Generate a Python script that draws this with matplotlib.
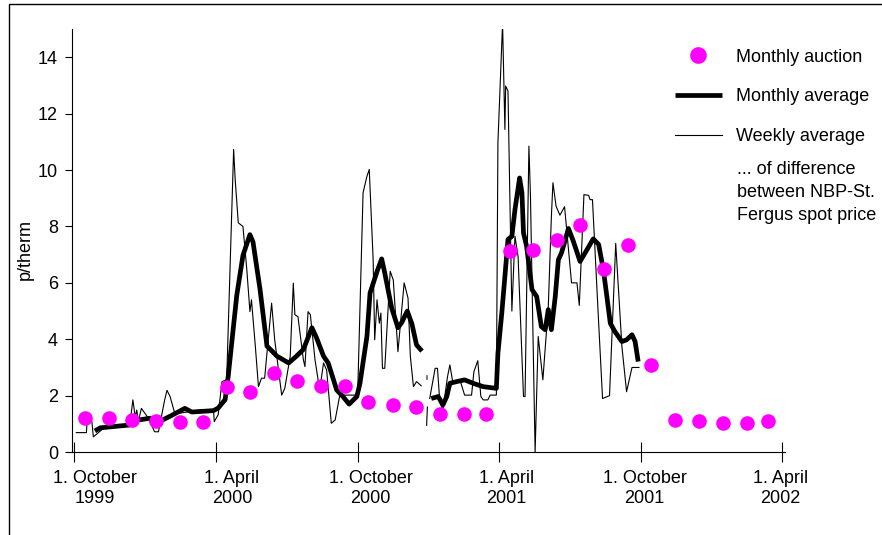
import numpy as np
import pandas as pd
import matplotlib
matplotlib.use("Agg")
import matplotlib.pyplot as plt
import matplotlib.dates as mdates
from matplotlib.lines import Line2D
from matplotlib.patches import Rectangle
from matplotlib.transforms import ScaledTranslation

plt.rcParams['font.family'] = ['Liberation Sans', 'DejaVu Sans']

BASE = np.datetime64('1999-10-01')

# Monthly auction result, one per month Oct 1999 .. Mar 2002 (p/therm)
auction_dates = pd.date_range('1999-10-01', '2002-03-01', freq='MS') + pd.Timedelta(days=14)
auction_vals = [1.20, 1.21, 1.14, 1.11, 1.08, 1.08, 2.31, 2.12, 2.80, 2.53, 2.35, 2.35,
                1.79, 1.67, 1.59, 1.34, 1.35, 1.35, 7.12, 7.18, 7.53, 8.06, 6.49, 7.33,
                3.07, 1.14, 1.10, 1.04, 1.04, 1.11]

# Monthly (rolling) average of NBP - St. Fergus difference; days since 1 Oct 1999
monthly_a_days = [27, 34, 72, 79, 98, 107, 124, 143, 152, 180, 186, 195, 199, 210, 218,
                  227, 231, 240, 249, 262, 277, 287, 296, 307, 313, 322, 328, 339, 347, 355,
                  365, 369, 378, 382, 391, 397, 401, 410, 418, 423, 430, 436, 442, 449]
monthly_a_vals = [0.75, 0.86, 0.96, 1.12, 1.20, 1.04, 1.27, 1.55, 1.42, 1.47, 1.56, 1.86, 2.69, 5.55, 6.97,
                  7.71, 7.45, 5.78, 3.76, 3.40, 3.16, 3.40, 3.64, 4.41, 4.05, 3.40, 3.16, 2.20, 1.97, 1.70,
                  1.97, 2.44, 4.10, 5.64, 6.40, 6.85, 6.35, 5.10, 4.41, 4.60, 5.00, 4.55, 3.80, 3.58]
monthly_b_days = [454, 456]
monthly_b_vals = [2.65, 2.65]
monthly_c_days = [461, 470, 476, 481, 485, 494, 504, 515, 528, 545, 547, 552, 556, 560, 565,
                  569, 575, 578, 580, 584, 591, 597, 603, 608, 612, 616, 621, 625, 629, 634,
                  638, 644, 653, 662, 670, 677, 683, 687, 692, 698, 707, 713, 720, 724, 728]
monthly_c_vals = [1.90, 1.97, 1.67, 1.97, 2.44, 2.50, 2.56, 2.44, 2.32, 2.26, 3.50, 4.93, 6.23, 7.54, 7.65,
                  8.60, 9.72, 9.19, 7.77, 7.30, 5.76, 5.52, 4.45, 4.34, 5.05, 4.34, 5.52, 6.82, 7.06, 7.54,
                  7.93, 7.50, 6.76, 7.18, 7.56, 7.36, 6.47, 5.64, 4.57, 4.27, 3.92, 3.98, 4.16, 3.92, 3.21]

# Weekly average
weekly_a_days = [3, 16, 17, 23, 25, 38, 72, 76, 79, 81, 83, 87, 96, 104, 109, 117, 120, 124, 130, 137,
                 150, 167, 180, 181, 186, 191, 197, 206, 208, 212, 218, 223, 227, 229, 234, 238, 242,
                 246, 255, 259, 268, 272, 279, 283, 285, 289, 296, 298, 302, 305, 311, 317, 322, 326,
                 332, 337, 343, 366, 373, 375, 378, 381, 386, 388, 391, 394, 396, 398, 401, 408, 412,
                 418, 426, 431, 434, 438, 442, 448]
weekly_a_vals = [0.69, 0.69, 1.10, 1.10, 0.54, 0.84, 0.96, 1.85, 1.25, 1.49, 1.08, 1.55, 1.20, 0.72, 0.72,
                 1.85, 2.19, 1.97, 1.38, 1.38, 1.44, 1.50, 1.50, 1.08, 1.32, 2.50, 2.56, 10.73, 9.66, 8.13,
                 8.00, 6.47, 4.98, 5.40, 3.75, 2.32, 2.62, 2.62, 5.28, 3.98, 2.02, 2.26, 3.40, 5.99, 4.87,
                 4.80, 3.27, 3.03, 4.98, 4.87, 3.27, 2.20, 3.16, 2.91, 1.02, 1.14, 2.02, 2.02, 9.19, 9.43,
                 9.78, 10.02, 6.82, 3.98, 5.40, 4.57, 4.93, 2.97, 2.97, 6.41, 6.10, 3.56, 6.00, 5.46, 3.40,
                 2.32, 2.50, 2.35]
weekly_b_days = [455, 456]
weekly_b_vals = [0.95, 1.60]
weekly_c_days = [459, 466, 469, 472, 476, 482, 485, 489, 498, 504, 513, 516, 521, 525, 528, 534, 537,
                 545, 547, 553, 556, 557, 560, 565, 569, 573, 580, 582, 587, 589, 595, 599, 605, 612,
                 616, 618, 622, 627, 633, 642, 649, 652, 658, 664, 666, 669, 677, 682, 691, 699, 707,
                 713, 720, 729]
weekly_c_vals = [1.90, 2.97, 2.97, 1.79, 1.50, 2.68, 3.09, 2.44, 2.56, 2.02, 2.02, 2.85, 3.24, 1.97, 1.85,
                 1.85, 2.02, 2.02, 10.97, 15.2, 11.44, 12.98, 12.80, 5.0, 7.65, 6.94, 1.97, 1.97, 10.85,
                 9.07, 0.0, 4.10, 2.56, 5.16, 8.36, 9.55, 8.72, 8.40, 8.70, 6.00, 6.00, 5.20, 9.13, 9.10,
                 8.95, 8.95, 4.57, 1.90, 2.00, 7.40, 3.74, 2.14, 3.00, 3.00]

tick_dates = ['1999-10-01', '2000-04-01', '2000-10-01', '2001-04-01', '2001-10-01', '2002-04-01']
tick_labels = ['1. October\n1999', '1. April\n2000', '1. October\n2000',
               '1. April\n2001', '1. October\n2001', '1. April\n2002']
# labels in the original sit a little off their ticks (pixels, + = right)
label_shift_px = [21, 16, 13, 8, 4, -1]


def to_dates(days):
    return BASE + np.array(days).astype('timedelta64[D]')


fig = plt.figure(figsize=(8.82, 5.35), dpi=100)
ax = fig.add_axes([0.0816, 0.155, 0.8084, 0.7907])

THIN = dict(color='black', lw=0.8)
THICK = dict(color='black', lw=3.4, solid_capstyle='butt')
for d, v in [(weekly_a_days, weekly_a_vals), (weekly_b_days, weekly_b_vals), (weekly_c_days, weekly_c_vals)]:
    ax.plot(to_dates(d), v, **THIN)
for d, v in [(monthly_a_days, monthly_a_vals), (monthly_b_days, monthly_b_vals), (monthly_c_days, monthly_c_vals)]:
    ax.plot(to_dates(d), v, **THICK)
ax.plot(auction_dates, auction_vals, ls='none', marker='o', ms=10.5, color='#FF00FF', mec='none')

base_num = mdates.date2num(BASE)
ax.set_xlim(base_num - 2.6, base_num + 917.4)
ax.set_ylim(0, 15)
ax.set_yticks(range(0, 15, 2))
ax.set_xticks([mdates.date2num(np.datetime64(t)) for t in tick_dates])
ax.set_xticklabels(tick_labels, fontsize=13, linespacing=1.25)
ax.tick_params(axis='y', labelsize=13, direction='out', length=5, width=0.8, pad=5)
ax.tick_params(axis='x', direction='inout', length=14, width=0.8, pad=6)
# shift after tick_params, which resets the label transforms
for lab, dx in zip(ax.get_xticklabels(), label_shift_px):
    lab.set_transform(lab.get_transform() + ScaledTranslation(dx / 100, 0, fig.dpi_scale_trans))
for s in ['top', 'right']:
    ax.spines[s].set_visible(False)
for s in ['left', 'bottom']:
    ax.spines[s].set_linewidth(0.8)
ax.set_ylabel('p/therm', fontsize=13)
ax.yaxis.set_label_coords(-0.054, 0.48)

handles = [Line2D([], [], ls='none', marker='o', ms=12, color='#FF00FF', mec='none'),
           Line2D([], [], **THICK),
           Line2D([], [], **THIN)]
ax.legend(handles, ['Monthly auction', 'Monthly average', 'Weekly average'],
          loc='upper left', bbox_to_anchor=(0.765, 0.909), bbox_transform=fig.transFigure,
          frameon=False, fontsize=13, handlelength=2.6, handletextpad=0.8,
          labelspacing=1.25, borderpad=0, borderaxespad=0)
fig.text(0.8356, 0.70, '... of difference\nbetween NBP-St.\nFergus spot price',
         fontsize=13, va='top', ha='left', linespacing=1.5)

fig.add_artist(Rectangle((8.5 / 882, -0.05), 1.2, 1.05 - 3.5 / 535, transform=fig.transFigure,
                         fill=False, lw=1.0, edgecolor='black'))

fig.savefig('out.png', dpi=100)
